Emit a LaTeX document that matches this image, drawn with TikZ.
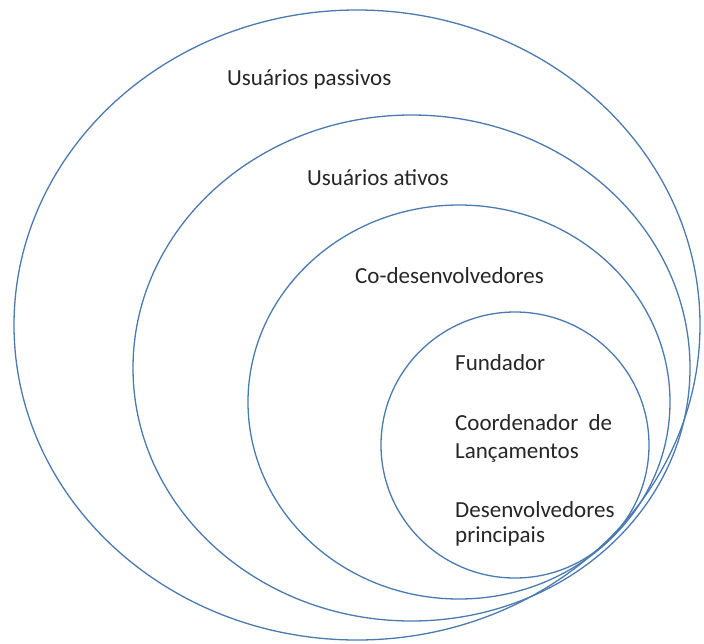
\documentclass[tikz,border=0pt]{standalone}
\usepackage{fontspec}
\setmainfont{Carlito}
\usetikzlibrary{shapes.geometric}
\definecolor{ringblue}{HTML}{4A7AB0}
\definecolor{labelgray}{HTML}{262626}
\begin{document}
\begin{tikzpicture}[x=1pt,y=-1pt,
  ring/.style={ellipse,draw=ringblue,line width=1.3pt,inner sep=0pt,outer sep=0pt},
  lbl/.style={anchor=base west,inner sep=0pt,text=labelgray,font=\fontsize{23}{28}\selectfont},
  lblblock/.style={anchor=north west,inner sep=0pt,text=labelgray,align=left,
    font=\fontsize{23}{28.5}\selectfont}]
\useasboundingbox (0,0) rectangle (704,643);
% nested rings, all touching at the lower right
\node[ring,minimum width=686pt,minimum height=630pt] (passive) at (357,325) {};
\node[ring,minimum width=557pt,minimum height=506pt] (active) at (411.5,368) {};
\node[ring,minimum width=422pt,minimum height=394pt] (codev) at (459,402) {};
\node[ring,minimum width=268pt,minimum height=266pt] (core) at (515,445) {};
% labels
\node[lbl] (tpassive) at (227,85) {Usuários passivos};
\node[lbl] (tactive) at (307,185) {Usuários ativos};
\node[lbl] (tcodev) at (355,283) {Co-desenvolvedores};
\node[lbl] (tfound) at (455,370) {Fundador};
\node[lbl] (tcoord) at (455,430) {Coordenador \ de};
\node[lbl] (trel) at (455,458) {Lançamentos};
\node[lbl] (tdev) at (455,517) {Desenvolvedores};
\node[lbl] (tprin) at (455,542) {principais};
\end{tikzpicture}
\end{document}
